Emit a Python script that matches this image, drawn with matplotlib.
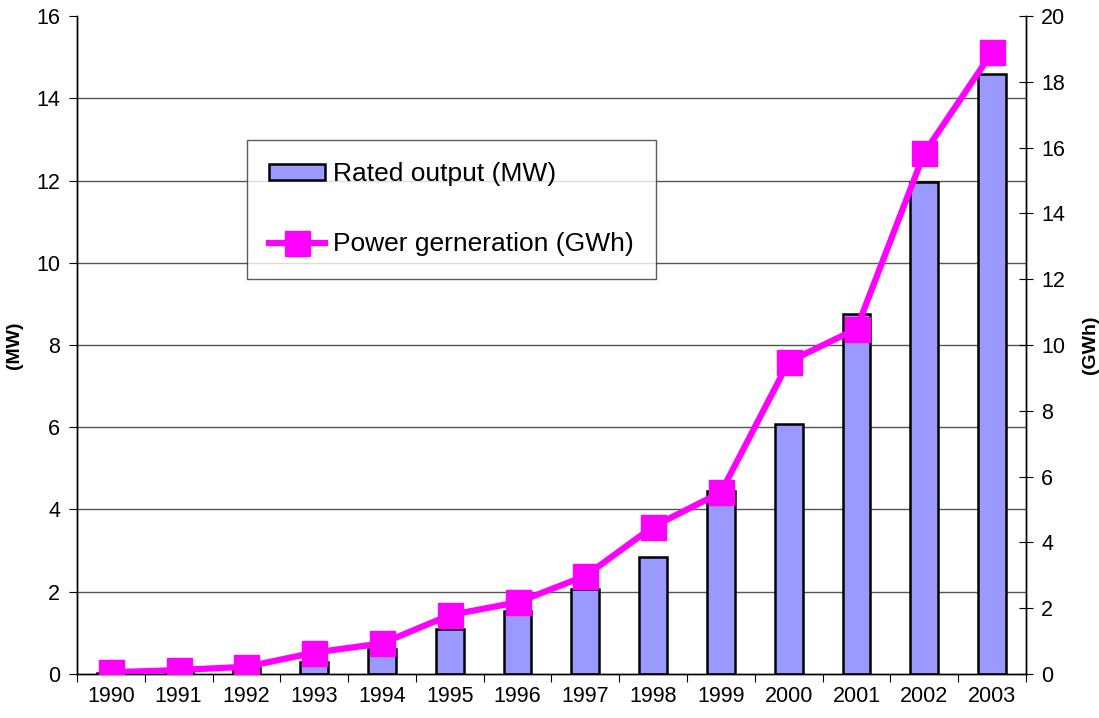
import matplotlib.pyplot as plt
import numpy as np

plt.rcParams['font.family'] = ['Liberation Sans', 'DejaVu Sans']

years = ['1990', '1991', '1992', '1993', '1994', '1995', '1996',
         '1997', '1998', '1999', '2000', '2001', '2002', '2003']
rated_mw = [0.02, 0.05, 0.15, 0.3, 0.6, 1.09, 1.54,
            2.07, 2.85, 4.45, 6.08, 8.76, 11.97, 14.6]
power_gwh = [0.05, 0.12, 0.22, 0.65, 0.93, 1.79, 2.18,
             2.98, 4.48, 5.52, 9.49, 10.49, 15.84, 18.9]

x = np.arange(len(years))

fig = plt.figure(figsize=(10.99, 7.18), dpi=100)
ax = fig.add_axes([0.070, 0.0613, 0.8636, 0.9164])
ax2 = ax.twinx()

bars = ax.bar(x, rated_mw, width=0.41, color='#9999FF', edgecolor='black',
              linewidth=1.8, label='Rated output (MW)', zorder=2)
line, = ax2.plot(x, power_gwh, color='#FF00FF', linewidth=4.5, marker='s',
                 markersize=18, markeredgecolor='#FF00FF',
                 label='Power gerneration (GWh)', zorder=3)

ax.set_xlim(-0.5, len(years) - 0.5)
ax.set_ylim(0, 16)
ax2.set_ylim(0, 20)
ax.set_yticks(np.arange(0, 17, 2))
ax2.set_yticks(np.arange(0, 21, 2))

# category boundaries as ticks, year labels in the middle
ax.set_xticks(np.arange(-0.5, len(years), 1.0))
ax.set_xticklabels([])
ax.set_xticks(x, minor=True)
ax.set_xticklabels(years, minor=True, fontsize=15.5)
ax.tick_params(axis='x', which='minor', length=0, pad=9)
ax.tick_params(axis='x', which='major', direction='out', length=6)

ax.tick_params(axis='y', direction='out', length=6, labelsize=15.5, pad=6)
ax2.tick_params(axis='y', direction='inout', length=10, labelsize=15.5, pad=6)

for v in np.arange(2, 16, 2):
    ax.axhline(v, color='#555555', linewidth=1.0, zorder=1)

for a in (ax, ax2):
    a.spines['top'].set_visible(False)
    for s in ('left', 'right', 'bottom'):
        a.spines[s].set_color('black')
        a.spines[s].set_linewidth(1.0)

ax.set_ylabel('(MW)', fontsize=14, fontweight='bold')
ax2.set_ylabel('(GWh)', fontsize=14, fontweight='bold', rotation=90)
ax.yaxis.set_label_coords(-0.057, 0.5)
ax2.yaxis.set_label_coords(1.059, 0.5)

leg = ax2.legend([bars, line], ['Rated output (MW)', 'Power gerneration (GWh)'],
                 loc='upper left', bbox_to_anchor=(0.179, 0.812),
                 fontsize=19, frameon=True, fancybox=False, handlelength=2.1,
                 handleheight=0.55, handletextpad=0.3, labelspacing=1.75,
                 borderpad=0.85, borderaxespad=0)
leg.get_frame().set_edgecolor('#333333')
leg.get_frame().set_linewidth(1.0)

plt.savefig('out.png', dpi=100)
